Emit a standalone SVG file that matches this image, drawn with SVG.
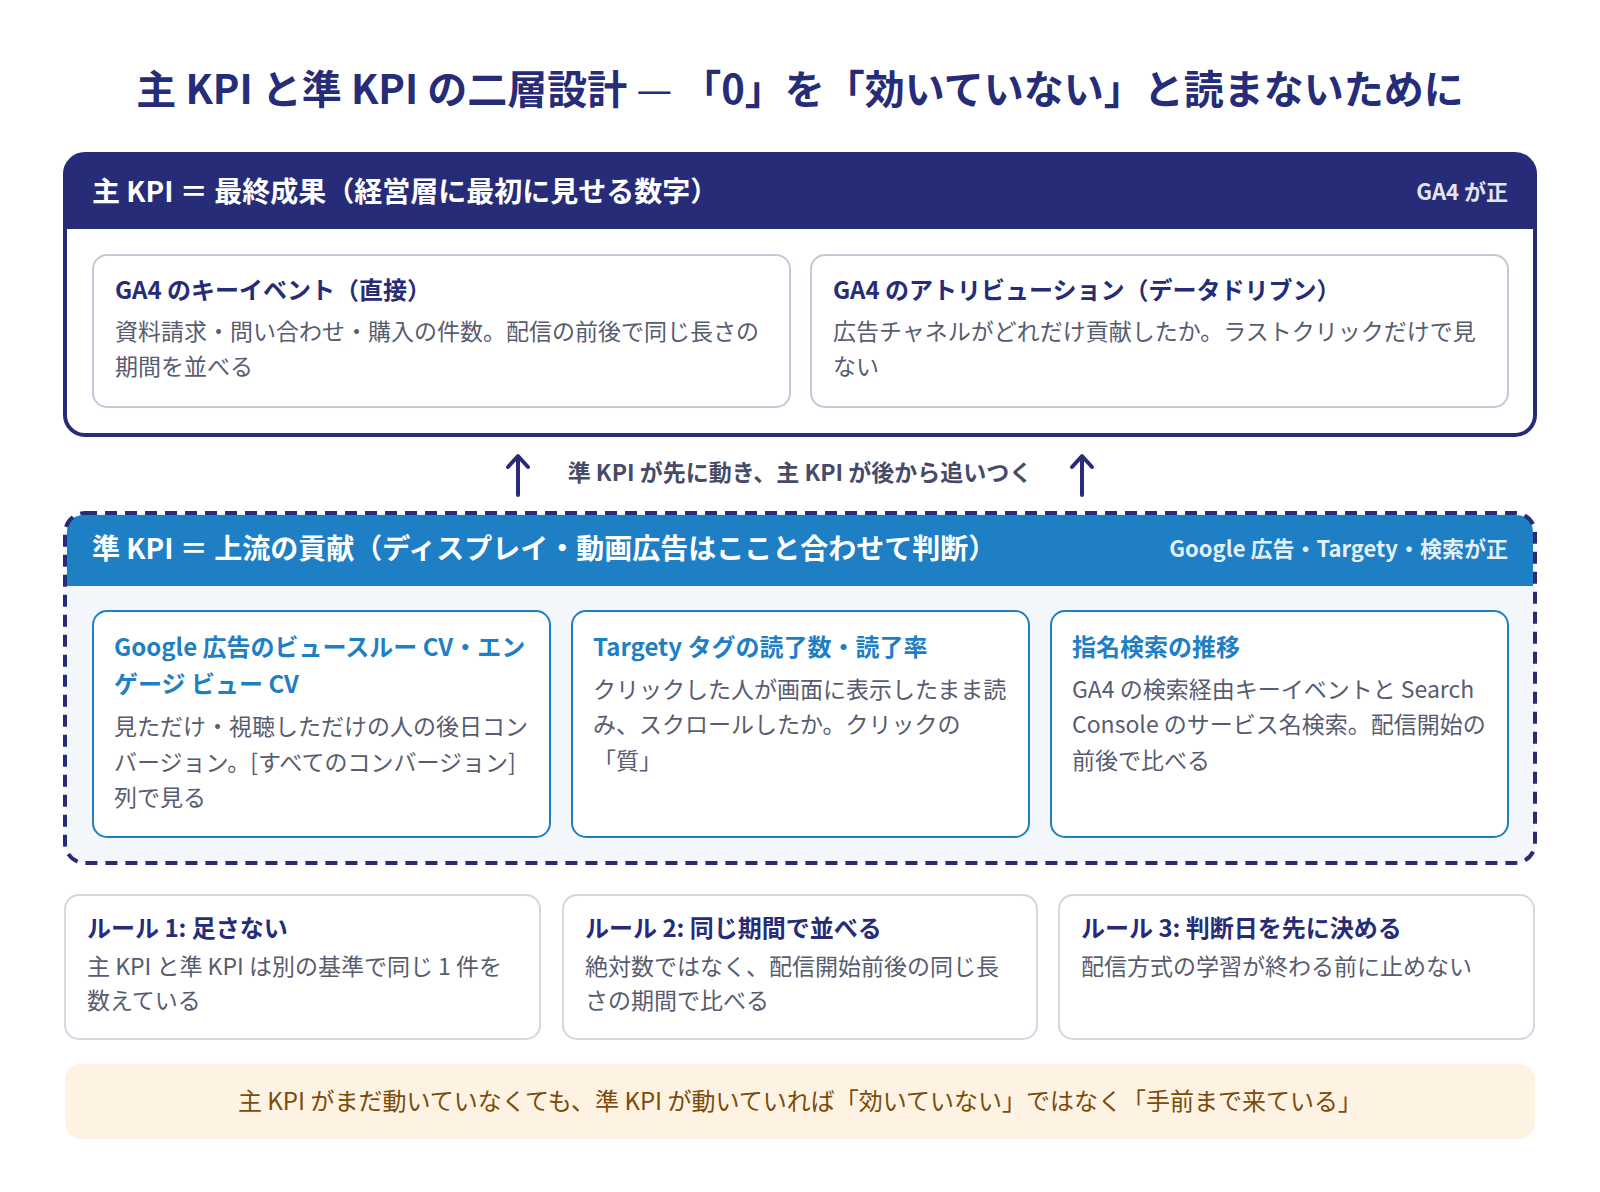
<svg xmlns="http://www.w3.org/2000/svg" width="1600" height="1192" viewBox="0 0 1600 1192">
<style>
text{font-family:"Noto Sans CJK JP","Noto Sans",sans-serif;}
.title{font-size:40px;font-weight:700;fill:#262C78;}
.hdr{font-size:28px;font-weight:700;fill:#FFFFFF;}
.hdrR{font-size:22px;font-weight:700;fill:#FFFFFF;fill-opacity:0.9;}
.ct{font-size:24px;font-weight:700;fill:#262C78;}
.cb{font-size:23px;font-weight:400;fill:#575C70;}
.bt{font-size:24px;font-weight:700;fill:#1F7FC5;}
.card{fill:#FFFFFF;stroke:#C3C8D8;stroke-width:2;}
.bcard{fill:#FFFFFF;stroke:#1F7FC5;stroke-width:2;}
.rcard{fill:#FFFFFF;stroke:#D3D7E2;stroke-width:2;}
.mid{font-size:23px;font-weight:700;fill:#474B68;}
.foot{font-size:24px;font-weight:400;fill:#7B4B0A;}
.arr{fill:none;stroke:#262C78;stroke-width:4;stroke-linecap:round;stroke-linejoin:round;}
</style>
<rect x="0" y="0" width="1600" height="1192" fill="#FFFFFF"/>

<g id="title">
<text class="title" x="800" y="104" text-anchor="middle">主 KPI と準 KPI の二層設計 <tspan font-weight="400">—</tspan> 「0」を「効いていない」と読まないために</text>
</g>

<g id="main-kpi">
<rect x="65" y="154" width="1470" height="281" rx="20" fill="#FFFFFF"/>
<path d="M65,229 V174 Q65,154 85,154 H1515 Q1535,154 1535,174 V229 Z" fill="#262C78"/>
<rect x="65" y="154" width="1470" height="281" rx="20" fill="none" stroke="#262C78" stroke-width="4"/>
<text class="hdr" x="92" y="202">主 KPI ＝ 最終成果（経営層に最初に見せる数字）</text>
<text class="hdrR" x="1508" y="200" text-anchor="end">GA4 が正</text>
</g>

<g id="card-keyevent">
<rect class="card" x="93" y="255" width="697" height="152" rx="14"/>
<text class="ct" x="115" y="299">GA4 のキーイベント（直接）</text>
<text class="cb" x="115" y="340">資料請求・問い合わせ・購入の件数。配信の前後で同じ長さの</text>
<text class="cb" x="115" y="375">期間を並べる</text>
</g>

<g id="card-attribution">
<rect class="card" x="811" y="255" width="697" height="152" rx="14"/>
<text class="ct" x="833" y="299">GA4 のアトリビューション（データドリブン）</text>
<text class="cb" x="833" y="340">広告チャネルがどれだけ貢献したか。ラストクリックだけで見</text>
<text class="cb" x="833" y="375">ない</text>
</g>

<g id="connectors">
<path class="arr" d="M518,495 V458 M508,467 L518,456 L528,467"/>
<path class="arr" d="M1082,495 V458 M1072,467 L1082,456 L1092,467"/>
</g>
<g id="link-label">
<text class="mid" x="800" y="481" text-anchor="middle">準 KPI が先に動き、主 KPI が後から追いつく</text>
</g>

<g id="sub-kpi">
<rect x="65" y="513" width="1470" height="350" rx="20" fill="#F3F7FC"/>
<path d="M67,586 V533 Q67,515 85,515 H1515 Q1533,515 1533,533 V586 Z" fill="#1F7FC5"/>
<rect x="65" y="513" width="1470" height="350" rx="20" fill="none" stroke="#262C78" stroke-width="4" stroke-dasharray="12 8"/>
<text class="hdr" x="92" y="559">準 KPI ＝ 上流の貢献（ディスプレイ・動画広告はここと合わせて判断）</text>
<text class="hdrR" x="1508" y="557" text-anchor="end">Google 広告・Targety・検索が正</text>
</g>

<g id="card-viewthrough">
<rect class="bcard" x="93" y="611" width="457" height="226" rx="14"/>
<text class="bt" x="114" y="656">Google 広告のビュースルー CV・エン</text>
<text class="bt" x="114" y="693">ゲージ ビュー CV</text>
<text class="cb" x="114" y="735">見ただけ・視聴しただけの人の後日コン</text>
<text class="cb" x="114" y="771">バージョン。[すべてのコンバージョン]</text>
<text class="cb" x="114" y="806">列で見る</text>
</g>

<g id="card-targety">
<rect class="bcard" x="572" y="611" width="457" height="226" rx="14"/>
<text class="bt" x="593" y="656">Targety タグの読了数・読了率</text>
<text class="cb" x="593" y="698">クリックした人が画面に表示したまま読</text>
<text class="cb" x="593" y="733">み、スクロールしたか。クリックの</text>
<text class="cb" x="593" y="769">「質」</text>
</g>

<g id="card-search">
<rect class="bcard" x="1051" y="611" width="457" height="226" rx="14"/>
<text class="bt" x="1072" y="656">指名検索の推移</text>
<text class="cb" x="1072" y="698">GA4 の検索経由キーイベントと Search</text>
<text class="cb" x="1072" y="733">Console のサービス名検索。配信開始の</text>
<text class="cb" x="1072" y="769">前後で比べる</text>
</g>

<g id="rule-1">
<rect class="rcard" x="65" y="895" width="475" height="144" rx="14"/>
<text class="ct" x="87" y="937">ルール 1: 足さない</text>
<text class="cb" x="87" y="975">主 KPI と準 KPI は別の基準で同じ 1 件を</text>
<text class="cb" x="87" y="1009">数えている</text>
</g>

<g id="rule-2">
<rect class="rcard" x="563" y="895" width="474" height="144" rx="14"/>
<text class="ct" x="585" y="937">ルール 2: 同じ期間で並べる</text>
<text class="cb" x="585" y="975">絶対数ではなく、配信開始前後の同じ長</text>
<text class="cb" x="585" y="1009">さの期間で比べる</text>
</g>

<g id="rule-3">
<rect class="rcard" x="1059" y="895" width="475" height="144" rx="14"/>
<text class="ct" x="1081" y="937">ルール 3: 判断日を先に決める</text>
<text class="cb" x="1081" y="975">配信方式の学習が終わる前に止めない</text>
</g>

<g id="footer">
<rect x="65" y="1064" width="1470" height="75" rx="16" fill="#FEF3E3"/>
<text class="foot" x="800" y="1110" text-anchor="middle">主 KPI がまだ動いていなくても、準 KPI が動いていれば「効いていない」ではなく「手前まで来ている」</text>
</g>
</svg>
